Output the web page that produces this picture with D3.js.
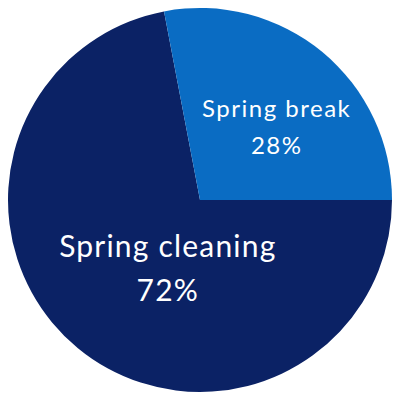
<!DOCTYPE html>
<html>
<head>
<meta charset="utf-8">
<script src="https://cdn.jsdelivr.net/npm/d3@7"></script>
<style>
  html, body { margin: 0; padding: 0; background: #fff; }
  svg { display: block; }
</style>
</head>
<body>
<div id="chart"></div>
<script>
// data
const categories = ["Spring cleaning", "Spring break"];
const shares = [72, 28];
const colors = ["#0b2265", "#0a6cc3"];

const width = 400;
const height = 400;
const radius = 192;

const svg = d3.select("#chart")
  .append("svg")
  .attr("width", width)
  .attr("height", height);

const g = svg.append("g")
  .attr("transform", `translate(${width / 2},${height / 2})`);

// pie starts at 3 o'clock, clockwise
const pie = d3.pie()
  .sort(null)
  .startAngle(Math.PI / 2)
  .endAngle(Math.PI / 2 + 2 * Math.PI)
  .value(d => d);

const arc = d3.arc().innerRadius(0).outerRadius(radius);

const arcs = pie(shares);

g.selectAll("path")
  .data(arcs)
  .enter()
  .append("path")
  .attr("d", arc)
  .attr("fill", (d, i) => colors[i]);

// label placement per slice (radius, font size, nudges, line gap)
const labelStyle = [
  { r: 75, size: 30, dx: 15, dy: -1, gap: 44, ls: 1.2 },
  { r: 105, size: 24, dx: 9, dy: -2, gap: 37, ls: 1.5 }
];

arcs.forEach((d, i) => {
  const s = labelStyle[i];
  const la = d3.arc().innerRadius(s.r).outerRadius(s.r);
  const [cx, cy] = la.centroid(d);
  const x = cx + s.dx + s.ls / 2;
  const t = g.append("text")
    .attr("text-anchor", "middle")
    .attr("fill", "#fff")
    .attr("font-family", "Lato, 'Open Sans', sans-serif")
    .attr("font-size", s.size + "px")
    .attr("letter-spacing", s.ls);
  t.append("tspan")
    .attr("x", x)
    .attr("y", cy + s.dy)
    .text(categories[i]);
  t.append("tspan")
    .attr("x", x)
    .attr("y", cy + s.dy + s.gap)
    .text(shares[i] + "%");
});
</script>
</body>
</html>
